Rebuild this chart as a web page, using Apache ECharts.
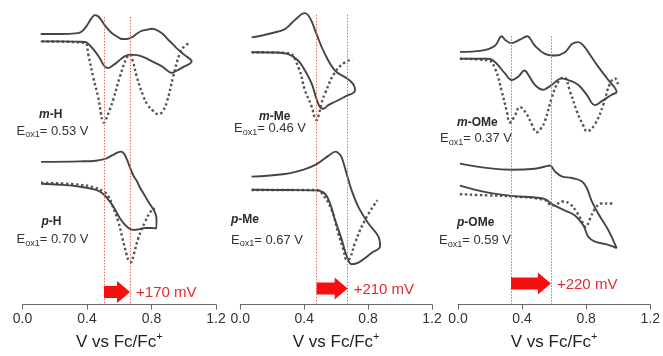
<!DOCTYPE html>
<html><head><meta charset="utf-8">
<script src="https://cdn.jsdelivr.net/npm/echarts@6/dist/echarts.min.js"></script>
<style>html,body{margin:0;padding:0;background:#fff}#c{width:663px;height:356px}</style>
</head><body><div id="c"></div>
<script>
// ---- axis ----
const tickValues = [0, 0.4, 0.8, 1.2];
const tickLabels = ['0.0', '0.4', '0.8', '1.2'];

// ---- panel 1 : H  (V vs Fc/Fc+, current in arbitrary units, offset traces) ----
const mH_cv = [[0.113,4.17],[0.233,4.17],[0.346,4.2],[0.388,4.23],[0.419,4.6],[0.450,5.17],[0.481,5.9],[0.501,6.5],[0.520,6.8],[0.535,6.83],[0.563,6.55],[0.594,6.17],[0.630,5.7],[0.667,5.5],[0.708,5.55],[0.739,5.67],[0.778,5.95],[0.822,6.33],[0.866,6.7],[0.904,7.17],[0.925,7.33],[0.952,7.15],[0.987,6.83],[1.049,6.17],
  [1.010,5.6],[0.966,5.0],[0.935,4.5],[0.904,4.0],[0.863,3.33],[0.822,2.95],[0.800,2.9],[0.770,3.0],[0.739,3.1],[0.708,3.4],[0.677,3.77],[0.646,3.93],[0.615,3.93],[0.594,3.75],[0.553,3.33],[0.518,2.7],[0.501,2.33],[0.481,1.85],[0.465,1.6],[0.450,1.52],[0.437,1.65],[0.425,1.9],[0.408,2.35],[0.388,2.83],[0.365,3.2],[0.346,3.33],[0.233,3.43],[0.113,3.43]];
const mH_dpv = [[0.119,4.17],[0.388,4.33],[0.408,5.5],[0.439,7.83],[0.470,9.83],[0.487,11.5],[0.497,12.2],[0.505,12.35],[0.515,12.1],[0.540,11.1],[0.563,10.0],[0.605,7.67],[0.646,5.83],[0.667,5.5],[0.685,6.2],[0.708,7.67],[0.749,9.67],[0.778,10.6],[0.811,11.17],[0.842,11.5],[0.865,11.3],[0.894,10.33],[0.935,7.67],[0.977,5.33],[1.008,4.6],[1.039,4.33]];
const pH_cv = [[0.115,18.5],[0.233,18.6],[0.357,18.8],[0.450,19.1],[0.491,19.4],[0.522,19.9],[0.563,20.8],[0.605,22.0],[0.646,22.8],[0.685,23.15],[0.720,23.1],[0.760,22.95],[0.800,22.95],[0.830,23.0],
  [0.831,22.0],[0.822,21.4],[0.800,20.8],[0.780,20.3],[0.755,19.6],[0.729,18.9],[0.708,18.2],[0.687,17.67],[0.665,16.8],[0.646,16.0],[0.630,15.5],[0.612,15.27],[0.592,15.35],[0.555,15.65],[0.512,16.0],[0.456,16.18],[0.357,16.25],[0.115,16.3]];
const pH_dpv = [[0.115,18.4],[0.357,18.6],[0.450,18.9],[0.505,19.3],[0.530,19.7],[0.553,20.5],[0.594,22.33],[0.620,24.0],[0.645,25.6],[0.660,26.3],[0.672,26.4],[0.690,25.6],[0.718,24.0],[0.760,22.33],[0.801,21.17],[0.822,21.0]];
const H_lines = [0.505, 0.667];
const H_shift = '+170 mV';

// ---- panel 2 : Me ----
const mMe_cv = [[0.071,5.3],[0.217,5.33],[0.300,5.5],[0.363,6.17],[0.405,7.17],[0.447,8.5],[0.478,10.1],[0.500,10.9],[0.520,11.05],[0.549,10.7],[0.593,10.33],[0.640,9.95],[0.676,9.67],[0.706,9.45],[0.718,9.2],
  [0.712,8.7],[0.687,8.2],[0.655,7.83],[0.593,7.17],[0.530,5.5],[0.478,3.5],[0.447,2.17],[0.425,1.55],[0.405,1.33],[0.385,1.42],[0.361,1.75],[0.322,2.33],[0.280,2.95],[0.238,3.2],[0.150,3.55],[0.071,3.8]];
const mMe_dpv = [[0.071,5.3],[0.300,5.4],[0.363,6.83],[0.405,9.17],[0.447,10.83],[0.465,11.9],[0.478,12.2],[0.492,11.6],[0.510,10.4],[0.530,9.5],[0.593,7.33],[0.655,6.33],[0.702,6.03]];
const pMe_cv = [[0.071,19.27],[0.300,19.3],[0.478,19.33],[0.530,19.67],[0.562,20.67],[0.593,22.33],[0.635,24.33],[0.666,26.0],[0.697,26.83],[0.739,26.67],[0.823,25.67],[0.875,25.0],
  [0.864,24.0],[0.801,22.67],[0.739,21.0],[0.697,19.33],[0.666,17.67],[0.635,16.0],[0.618,15.6],[0.597,15.4],[0.551,15.83],[0.478,16.67],[0.405,17.17],[0.280,17.67],[0.071,17.93]];
const pMe_dpv = [[0.071,19.3],[0.478,19.3],[0.510,19.6],[0.572,21.33],[0.613,23.67],[0.645,25.33],[0.668,26.4],[0.687,26.2],[0.718,24.67],[0.781,22.33],[0.858,20.33]];
const Me_lines = [0.478, 0.672];
const Me_shift = '+210 mV';

// ---- panel 3 : OMe ----
const mOMe_cv = [[0.012,6.0],[0.189,6.0],[0.231,6.33],[0.293,7.5],[0.335,8.17],[0.376,7.83],[0.415,7.2],[0.445,7.8],[0.480,8.67],[0.532,9.17],[0.555,9.0],[0.585,8.67],[0.647,8.0],[0.688,8.17],[0.751,8.67],[0.803,9.67],[0.855,10.73],[0.897,10.33],[0.959,9.67],[0.990,9.4],
  [0.938,8.17],[0.876,6.83],[0.813,5.33],[0.780,4.6],[0.751,4.3],[0.711,4.5],[0.668,5.33],[0.605,5.67],[0.543,5.5],[0.480,4.67],[0.431,3.7],[0.387,4.05],[0.331,4.4],[0.293,4.05],[0.273,3.7],[0.231,4.67],[0.148,5.17],[0.012,5.3]];
const mOMe_dpv = [[0.012,6.0],[0.189,6.17],[0.231,7.0],[0.273,9.33],[0.304,11.33],[0.324,12.5],[0.349,12.0],[0.387,10.95],[0.429,11.67],[0.460,12.67],[0.491,13.5],[0.518,13.1],[0.543,12.33],[0.585,10.0],[0.626,8.33],[0.661,7.9],[0.699,9.33],[0.741,11.33],[0.782,12.83],[0.805,13.4],[0.855,12.67],[0.907,10.67],[0.949,8.5],[0.980,8.0],[0.998,8.6]];
const pOMe_cv = [[0.012,18.95],[0.189,19.67],[0.335,20.0],[0.480,20.17],[0.543,20.33],[0.585,20.83],[0.626,21.17],[0.668,21.5],[0.730,22.0],[0.782,23.0],[0.813,24.17],[0.855,24.67],[0.938,25.0],[0.990,25.33],
  [0.938,23.5],[0.876,21.83],[0.834,20.5],[0.803,19.17],[0.772,18.5],[0.710,18.17],[0.647,18.0],[0.605,17.5],[0.574,16.9],[0.543,17.0],[0.480,17.23],[0.335,17.33],[0.189,17.17],[0.012,16.7]];
const pOMe_dpv = [[0.012,19.83],[0.189,19.95],[0.335,20.05],[0.543,20.43],[0.585,21.0],[0.616,20.83],[0.655,20.57],[0.699,20.83],[0.741,21.67],[0.782,22.83],[0.797,23.17],[0.824,22.33],[0.855,21.33],[0.897,20.77],[0.959,20.77],[0.977,20.87]];
const OMe_lines = [0.331, 0.580];
const OMe_shift = '+220 mV';

// ---- labels ----
const compounds = ['m-H', 'p-H', 'm-Me', 'p-Me', 'm-OMe', 'p-OMe'];
const eoxValues = ['0.53', '0.70', '0.46', '0.67', '0.37', '0.59'];

// ================= layout / rendering =================
const FONT = '"Liberation Sans", Arial, Helvetica, sans-serif';
const grids = [
  {left: 22.5, top: 0, width: 193.5, height: 306.7},
  {left: 240.3, top: 0, width: 191.7, height: 309.3},
  {left: 458, top: 0, width: 192.3, height: 311}
];
const panels = [
  {cv: [mH_cv, pH_cv], dpv: [mH_dpv, pH_dpv], lines: H_lines, lineTop: 1.7, shift: H_shift, arrowY: 29.4},
  {cv: [mMe_cv, pMe_cv], dpv: [mMe_dpv, pMe_dpv], lines: Me_lines, lineTop: 1.5, shift: Me_shift, arrowY: 29.3},
  {cv: [mOMe_cv, pOMe_cv], dpv: [mOMe_dpv, pOMe_dpv], lines: OMe_lines, lineTop: 3.7, shift: OMe_shift, arrowY: 28.95}
];

const xAxis = grids.map((g, i) => ({
  type: 'value', gridIndex: i, min: 0, max: 1.2, interval: 0.4, position: 'bottom',
  axisLine: {show: true, onZero: false, lineStyle: {color: '#6a6a6a', width: 1}},
  axisTick: {show: true, length: 5, lineStyle: {color: '#6a6a6a'}},
  splitLine: {show: false},
  axisLabel: {color: '#333', fontSize: 14, fontFamily: FONT, margin: 8,
    formatter: v => tickLabels[tickValues.findIndex(t => Math.abs(t - v) < 1e-6)] ?? ''},
  name: '{n|V vs Fc/Fc}{s|+}', nameLocation: 'middle', nameGap: 24,
  nameTextStyle: {rich: {
    n: {fontSize: 17, fontFamily: FONT, color: '#222', lineHeight: 22},
    s: {fontSize: 11, fontFamily: FONT, color: '#222', lineHeight: 12, verticalAlign: 'top'}
  }}
}));
const yAxis = grids.map((g, i) => ({type: 'value', gridIndex: i, inverse: true, min: 0, max: g.height / 10, show: false}));

const series = [];
panels.forEach((p, i) => {
  const yMax = grids[i].height / 10;
  p.dpv.forEach(d => series.push({
    type: 'line', xAxisIndex: i, yAxisIndex: i, data: d, symbol: 'none', smooth: 0.45,
    lineStyle: {color: '#555', width: 2.4, type: [2.4, 2.6], cap: 'butt'}, z: 2, silent: true
  }));
  p.cv.forEach((d, k) => series.push({
    type: 'line', xAxisIndex: i, yAxisIndex: i, data: d, symbol: 'none', smooth: 0.4,
    lineStyle: {color: '#454545', width: 1.9}, z: 3, silent: true,
    markLine: k === 0 ? {
      silent: true, symbol: 'none', animation: false, label: {show: false},
      lineStyle: {color: '#e36262', type: [1.5, 1.5], width: 1},
      data: p.lines.map(x => [{coord: [x, p.lineTop]}, {coord: [x, yMax]}])
    } : undefined
  }));
  series.push({
    type: 'custom', xAxisIndex: i, yAxisIndex: i, silent: true, z: 5,
    data: [[p.lines[0], p.lines[1], p.arrowY]],
    renderItem: (params, api) => {
      const a = api.coord([api.value(0), api.value(2)]);
      const b = api.coord([api.value(1), api.value(2)]);
      const hl = 13, sh = 6, hh = 11, y = a[1];
      return {type: 'group', children: [
        {type: 'polygon', shape: {points: [[a[0], y - sh], [b[0] - hl, y - sh], [b[0] - hl, y - hh], [b[0], y], [b[0] - hl, y + hh], [b[0] - hl, y + sh], [a[0], y + sh]]},
          style: {fill: '#f50f0f'}},
        {type: 'text', x: b[0] + 6, y: y + 1, style: {text: p.shift, fill: '#e8282c', font: '15px ' + FONT, align: 'left', verticalAlign: 'middle'}}
      ]};
    }
  });
});

// compound / potential labels (text annotations)
const labelPos = [
  {cx: 39, cy: 115, ex: 16.5, ey: 131},
  {cx: 41.5, cy: 221.5, ex: 16.5, ey: 239.5},
  {cx: 259, cy: 117, ex: 234, ey: 128.5},
  {cx: 231, cy: 220, ex: 231, ey: 240},
  {cx: 457, cy: 123, ex: 440, ey: 138.5},
  {cx: 457, cy: 222.5, ex: 439, ey: 240.5}
];
const graphic = [];
compounds.forEach((c, i) => {
  const parts = c.split('-');
  const L = labelPos[i];
  graphic.push({type: 'text', x: L.cx, y: L.cy, silent: true, style: {
    text: '{i|' + parts[0] + '}{b|-' + parts[1] + '}', align: 'left', verticalAlign: 'middle',
    rich: {
      i: {fontSize: 12, fontWeight: 'bold', fontStyle: 'italic', fontFamily: FONT, fill: '#2a2a2a'},
      b: {fontSize: 12, fontWeight: 'bold', fontFamily: FONT, fill: '#2a2a2a'}
    }}});
  graphic.push({type: 'text', x: L.ex, y: L.ey, silent: true, style: {
    text: '{n|E}{s|ox1}{n|= ' + eoxValues[i] + ' V}', align: 'left', verticalAlign: 'middle',
    rich: {
      n: {fontSize: 13, fontFamily: FONT, fill: '#333', lineHeight: 17},
      s: {fontSize: 9, fontFamily: FONT, fill: '#333', lineHeight: 9, verticalAlign: 'bottom'}
    }}});
});

const chart = echarts.init(document.getElementById('c'), null, {renderer: 'canvas'});
chart.setOption({
  animation: false, backgroundColor: '#fff',
  grid: grids, xAxis, yAxis, series, graphic
});
</script></body></html>
